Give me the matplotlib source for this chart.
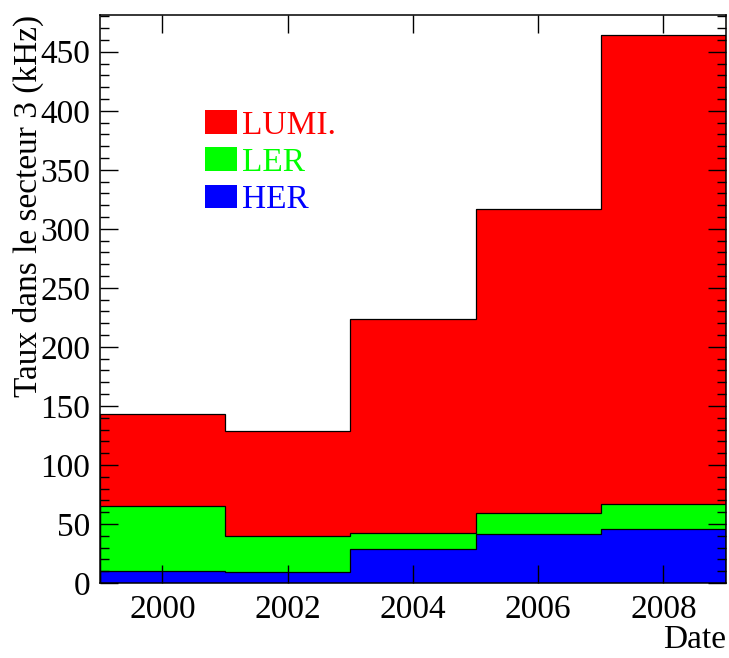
import numpy as np
import matplotlib
matplotlib.use("Agg")
import matplotlib.pyplot as plt
from matplotlib.patches import Patch
from matplotlib.ticker import MultipleLocator

# bin edges (years) and stacked rates in kHz
edges = [1999, 2001, 2003, 2005, 2007, 2009]
her = [10, 9.5, 28.5, 41.5, 46]
ler = [55.5, 30, 13.5, 17.5, 20.5]
lumi = [78, 89, 182, 258, 397.5]
labels = ["LUMI.", "LER", "HER"]
colors = ["#ff0000", "#00ff00", "#0000ff"]

plt.rcParams["font.family"] = ["Liberation Serif", "DejaVu Serif"]

fig = plt.figure(figsize=(7.29, 6.58), dpi=100)
ax = fig.add_axes([0.137, 0.114, 0.859, 0.863])

her = np.array(her)
ler = np.array(ler)
lumi = np.array(lumi)
tot_ler = her + ler
tot = tot_ler + lumi

# draw from the top of the stack down
for vals, c in zip([tot, tot_ler, her], colors):
    ax.stairs(vals, edges, fill=True, color=c, zorder=1)
    ax.stairs(vals, edges, color="black", lw=0.9, zorder=2)

ax.set_xlim(1999, 2009)
ax.set_ylim(0, 481)
ax.set_xticks([2000, 2002, 2004, 2006, 2008])
ax.yaxis.set_major_locator(MultipleLocator(50))
ax.yaxis.set_minor_locator(MultipleLocator(10))
ax.tick_params(axis="both", which="major", direction="in", length=13, width=1,
               labelsize=24, top=True, right=True, pad=7)
ax.tick_params(axis="x", which="major", pad=8)
ax.tick_params(axis="y", which="minor", direction="in", length=6.5, width=1,
               right=True)
ax.tick_params(axis="x", which="minor", bottom=False, top=False)
for s in ax.spines.values():
    s.set_linewidth(1.1)
    s.set_zorder(5)

ax.set_ylabel("Taux dans le secteur 3 (kHz)", fontsize=24, loc="top", labelpad=-3)
fig.text(0.996, 0.027, "Date", fontsize=24, ha="right", va="center")

handles = [Patch(facecolor=c, edgecolor="none") for c in colors]
leg = ax.legend(handles, labels, loc="upper left", bbox_to_anchor=(0.141, 0.862),
                frameon=False, fontsize=24, handlelength=0.97, handleheight=0.7,
                handletextpad=0.15, labelspacing=0.2, borderpad=0,
                labelcolor=colors)

fig.savefig("out.png", dpi=100)
